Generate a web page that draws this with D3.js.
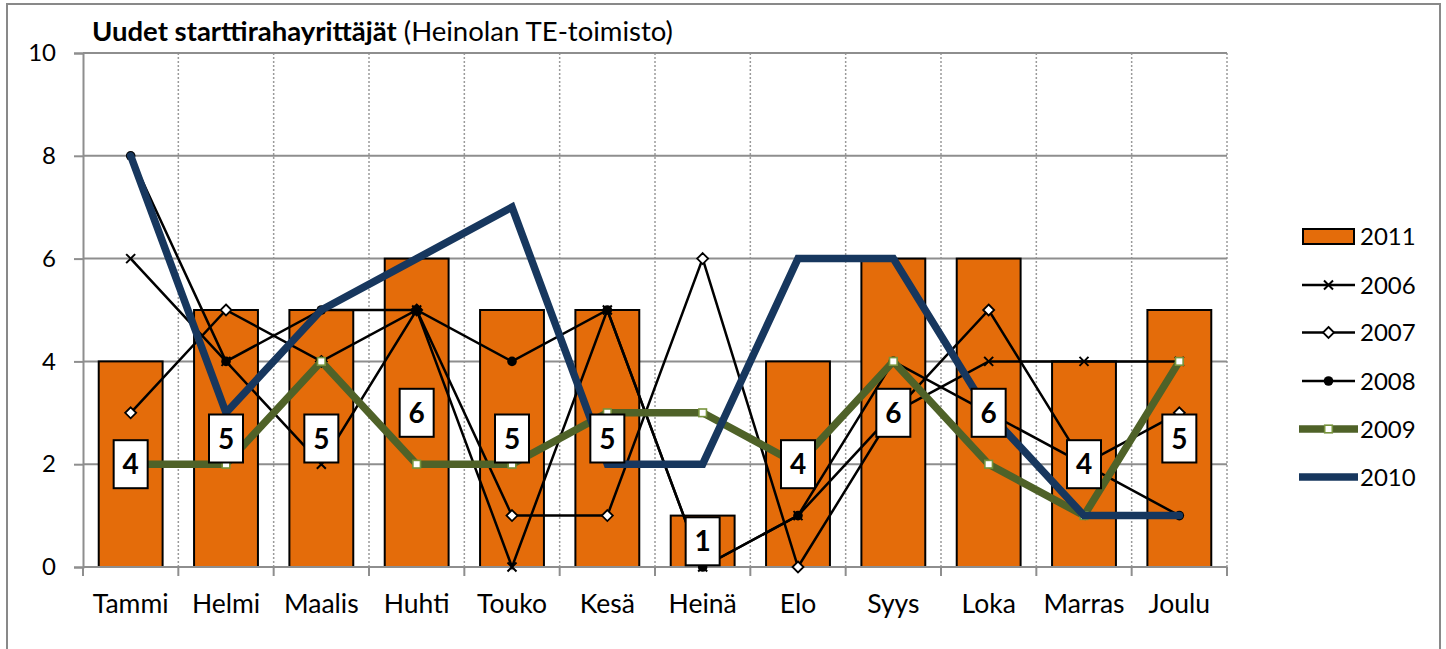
<!DOCTYPE html>
<html>
<head>
<meta charset="utf-8">
<script src="https://cdn.jsdelivr.net/npm/d3@7"></script>
<style>
  body { margin: 0; background: #fff; }
  svg { display: block; font-family: Lato, "Open Sans", sans-serif; }
</style>
</head>
<body>
<svg id="chart" width="1446" height="649"></svg>
<script>
const months = ["Tammi","Helmi","Maalis","Huhti","Touko","Kesä","Heinä","Elo","Syys","Loka","Marras","Joulu"];
const v2011 = [4,5,5,6,5,5,1,4,6,6,4,5];
const v2006 = [6,4,2,5,0,5,0,1,3,4,4,4];
const v2007 = [3,5,4,5,1,1,6,0,3,5,2,3];
const v2008 = [8,4,5,5,4,5,0,1,4,3,2,1];
const v2009 = [2,2,4,2,2,3,3,2,4,2,1,4];
const v2010 = [8,3,5,6,7,2,2,6,6,3,1,1];
const yTicks = [0,2,4,6,8,10];
const titleBold = "Uudet starttirahayrittäjät";
const titleRest = " (Heinolan TE-toimisto)";

(function () {
const ORANGE = "#E46C0A", GREEN = "#4F6228", NAVY = "#17375E", GRID = "#8e8e8e";

const svg = d3.select("#chart");
const pLeft = 83, pRight = 1227, pTop = 53, pBottom = 567;

const x = d3.scaleBand().domain(months).range([pLeft, pRight]).paddingInner(0).paddingOuter(0);
const y = d3.scaleLinear().domain([0, 10]).range([pBottom, pTop]);
const bw = x.bandwidth();
const cx = m => x(m) + bw / 2;

// outer border
svg.append("rect").attr("x", 7).attr("y", 4).attr("width", 1433).attr("height", 700)
  .attr("fill", "none").attr("stroke", "#898989").attr("stroke-width", 2);

// title
const t = svg.append("text").attr("x", 92).attr("y", 41).attr("font-size", 27.5).attr("fill", "#000");
t.append("tspan").attr("font-weight", "bold").text(titleBold);
t.append("tspan").text(titleRest);

// vertical dotted gridlines at category boundaries
const bounds = months.map(m => x(m)).concat([pRight]);
svg.append("g").selectAll("line").data(bounds.slice(1)).join("line")
  .attr("x1", d => d).attr("x2", d => d).attr("y1", pTop).attr("y2", pBottom)
  .attr("stroke", "#9a9a9a").attr("stroke-width", 1.5).attr("stroke-dasharray", "2,2");

// horizontal gridlines
svg.append("g").selectAll("line").data(yTicks.filter(d => d > 0)).join("line")
  .attr("x1", pLeft).attr("x2", pRight).attr("y1", d => y(d)).attr("y2", d => y(d))
  .attr("stroke", GRID).attr("stroke-width", 2);

// y axis
const yAxis = d3.axisLeft(y).tickValues(yTicks).tickSize(9).tickPadding(18).tickFormat(d3.format("d"));
const ya = svg.append("g").attr("transform", `translate(${pLeft},0)`).call(yAxis);
ya.select(".domain").attr("stroke", GRID).attr("stroke-width", 2);
ya.selectAll(".tick line").attr("stroke", GRID).attr("stroke-width", 2);
ya.selectAll(".tick text").attr("font-size", 24).attr("fill", "#000").attr("font-family", "Lato");

// bars
svg.append("g").selectAll("rect").data(months).join("rect")
  .attr("x", (m) => cx(m) - bw * 0.335)
  .attr("width", bw * 0.67)
  .attr("y", (m, i) => y(v2011[i]))
  .attr("height", (m, i) => y(0) - y(v2011[i]))
  .attr("fill", ORANGE).attr("stroke", "#000").attr("stroke-width", 2);

// x axis
const xAxisG = svg.append("g").attr("transform", `translate(0,${pBottom})`);
xAxisG.append("line").attr("x1", pLeft).attr("x2", pRight).attr("y1", 0).attr("y2", 0)
  .attr("stroke", GRID).attr("stroke-width", 2);
xAxisG.selectAll("line.tk").data(bounds).join("line").attr("class", "tk")
  .attr("x1", d => d).attr("x2", d => d).attr("y1", 0).attr("y2", 9)
  .attr("stroke", GRID).attr("stroke-width", 2);
xAxisG.selectAll("text").data(months).join("text")
  .attr("x", m => cx(m)).attr("y", 46).attr("text-anchor", "middle")
  .attr("font-size", 26.5).attr("fill", "#000").text(m => m);

// line series
const lineGen = d3.line().x((d, i) => cx(months[i])).y(d => y(d));

function markerX(g, px, py, s) {
  g.append("path").attr("d", `M${px - s},${py - s}L${px + s},${py + s}M${px - s},${py + s}L${px + s},${py - s}`)
    .attr("stroke", "#000").attr("stroke-width", 2).attr("fill", "none");
}
function markerDiamond(g, px, py, s) {
  g.append("path").attr("d", `M${px},${py - s}L${px + s},${py}L${px},${py + s}L${px - s},${py}Z`)
    .attr("fill", "#fff").attr("stroke", "#000").attr("stroke-width", 1.8);
}
function markerDot(g, px, py, r) {
  g.append("circle").attr("cx", px).attr("cy", py).attr("r", r).attr("fill", "#000");
}
function markerSquare(g, px, py, s) {
  g.append("rect").attr("x", px - s).attr("y", py - s).attr("width", 2 * s).attr("height", 2 * s)
    .attr("fill", "#fff").attr("stroke", "#77933C").attr("stroke-width", 1.6);
}

const series = [
  { name: "2006", vals: v2006, color: "#000", w: 2.5, marker: (g, a, b) => markerX(g, a, b, 4.5) },
  { name: "2007", vals: v2007, color: "#000", w: 2.5, marker: (g, a, b) => markerDiamond(g, a, b, 5.5) },
  { name: "2008", vals: v2008, color: "#000", w: 2.5, marker: (g, a, b) => markerDot(g, a, b, 4.8) },
  { name: "2009", vals: v2009, color: GREEN, w: 7.5, marker: (g, a, b) => markerSquare(g, a, b, 3.8) },
  { name: "2010", vals: v2010, color: NAVY, w: 7.5, marker: null, cap: "round" }
];

const linesG = svg.append("g");
series.forEach(s => {
  const g = linesG.append("g");
  g.append("path").attr("d", lineGen(s.vals)).attr("fill", "none")
    .attr("stroke", s.color).attr("stroke-width", s.w)
    .attr("stroke-linejoin", "miter").attr("stroke-linecap", s.cap || "butt");
  if (s.marker) s.vals.forEach((v, i) => s.marker(g, cx(months[i]), y(v)));
});

// data labels for 2011
const lbl = svg.append("g");
months.forEach((m, i) => {
  const px = cx(m), py = y(v2011[i] / 2);
  lbl.append("rect").attr("x", px - 17).attr("y", py - 24).attr("width", 34).attr("height", 48)
    .attr("fill", "#fff").attr("stroke", "#000").attr("stroke-width", 2);
  lbl.append("text").attr("x", px).attr("y", py + 10).attr("text-anchor", "middle")
    .attr("font-size", 28).attr("font-weight", "bold").attr("fill", "#000").text(v2011[i]);
});

// legend
const legend = svg.append("g");
const legendRows = [236.5, 285, 332.5, 381, 429, 477];
legend.append("rect").attr("x", 1303).attr("y", 229).attr("width", 51).attr("height", 15)
  .attr("fill", ORANGE).attr("stroke", "#000").attr("stroke-width", 2);
legend.append("text").attr("x", 1360).attr("y", legendRows[0] + 8.5).attr("font-size", 24).text("2011");
series.forEach((s, k) => {
  const ry = legendRows[k + 1];
  const thick = s.w > 5;
  legend.append("line").attr("x1", thick ? 1299 : 1302).attr("x2", thick ? 1358 : 1355)
    .attr("y1", ry).attr("y2", ry).attr("stroke", s.color).attr("stroke-width", s.w);
  if (s.marker) s.marker(legend, 1328.5, ry);
  legend.append("text").attr("x", 1360).attr("y", ry + 8.5).attr("font-size", 24).text(s.name);
});
})();
</script>
</body>
</html>
